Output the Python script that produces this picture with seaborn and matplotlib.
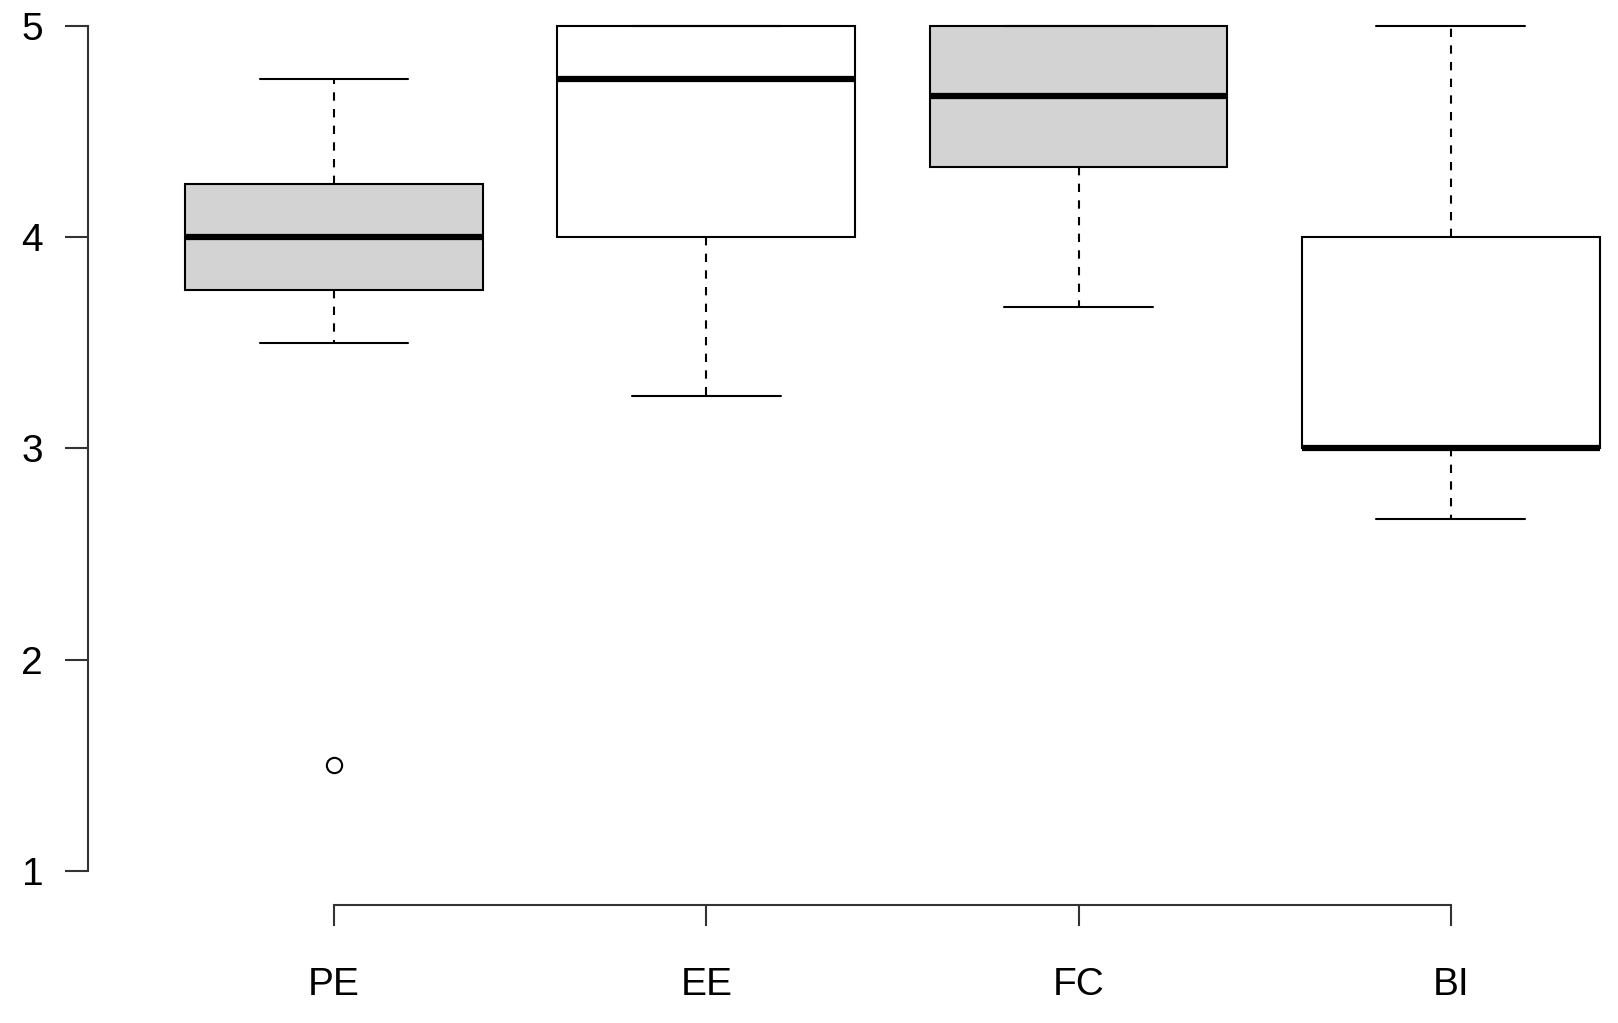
import matplotlib
matplotlib.use("Agg")
import matplotlib.pyplot as plt
import seaborn as sns
import pandas as pd

# scores per construct (quartiles, whiskers, outlier)
categories = ["PE", "EE", "FC", "BI"]
pe_scores = [1.5, 3.5, 3.75, 3.75, 4.0, 4.25, 4.25, 4.5, 4.75]
ee_scores = [3.25, 3.5, 4.0, 4.5, 4.75, 5.0, 5.0, 5.0, 5.0]
fc_scores = [3.667, 4.0, 4.333, 4.333, 4.667, 5.0, 5.0, 5.0, 5.0]
bi_scores = [2.667, 3.0, 3.0, 3.0, 3.0, 3.5, 4.0, 4.5, 5.0]
fill_colors = ["#d3d3d3", "white", "#d3d3d3", "white"]
y_ticks = [1, 2, 3, 4, 5]

rows = []
for name, vals in zip(categories, [pe_scores, ee_scores, fc_scores, bi_scores]):
    for v in vals:
        rows.append({"construct": name, "score": v})
df = pd.DataFrame(rows)

sns.set_style("ticks")
plt.rcParams["font.family"] = ["Liberation Sans", "DejaVu Sans"]

fig = plt.figure(figsize=(16.18, 10.23), dpi=100)
ax = fig.add_axes([0.0546, 0.1155, 0.9454, 0.8845])

sns.boxplot(
    data=df, x="construct", y="score", hue="construct", order=categories,
    hue_order=categories, palette=fill_colors, legend=False, saturation=1,
    width=0.8, linecolor="black", linewidth=1.5, fliersize=11, ax=ax,
    medianprops=dict(color="black", linewidth=4.5, solid_capstyle="butt"),
    whiskerprops=dict(color="black", linewidth=1.5, linestyle=(0, (4, 4))),
    capprops=dict(color="black", linewidth=1.5),
    flierprops=dict(marker="o", markerfacecolor="none",
                    markeredgecolor="black", markeredgewidth=1.5),
)

ax.set_xlim(-0.66, 3.449)
ax.set_ylim(0.84, 5.1216)
ax.set_yticks(y_ticks)
ax.set_yticklabels([str(t) for t in y_ticks])
ax.set_xlabel("")
ax.set_ylabel("")

for side in ["top", "right"]:
    ax.spines[side].set_visible(False)
ax.spines["left"].set_bounds(1, 5)
ax.spines["bottom"].set_bounds(0, 3)
for side in ["left", "bottom"]:
    ax.spines[side].set_linewidth(1.5)
    ax.spines[side].set_color("#333333")

ax.tick_params(axis="y", left=True, direction="out", length=16.5, width=1.5,
               color="#333333", labelcolor="black", labelsize=28, pad=16)
ax.tick_params(axis="x", bottom=True, direction="out", length=15, width=1.5,
               color="#333333", labelcolor="black", labelsize=28, pad=30)

fig.savefig("out.png", dpi=100, facecolor="white")
